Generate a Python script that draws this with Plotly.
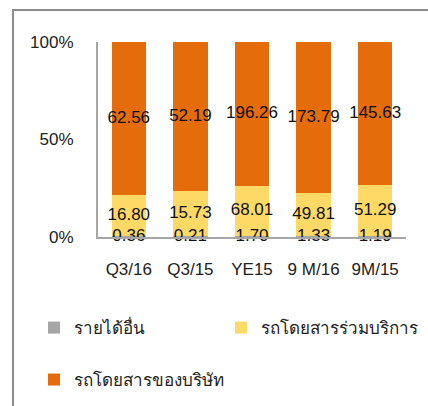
import plotly.graph_objects as go

categories = ["Q3/16", "Q3/15", "YE15", "9 M/16", "9M/15"]
other_income = [0.36, 0.21, 1.70, 1.33, 1.19]
joint_buses = [16.80, 15.73, 68.01, 49.81, 51.29]
company_buses = [62.56, 52.19, 196.26, 173.79, 145.63]

names = ["รายได้อื่น", "รถโดยสารร่วมบริการ", "รถโดยสารของบริษัท"]
colors = ["#A5A5A5", "#FFD966", "#E46C0A"]
legends = ["legend", "legend2", "legend3"]
series = [other_income, joint_buses, company_buses]

W, H = 428, 406
L, R, T, B = 98, 22, 42, 169
pw, ph = W - L - R, H - T - B

FONT = "Liberation Sans, Arial, sans-serif"

fig = go.Figure()
for name, vals, col, lg in zip(names, series, colors, legends):
    fig.add_trace(go.Bar(
        x=categories, y=vals, name=name, legend=lg,
        marker=dict(color=col, line=dict(width=0)),
    ))

# value labels centred in each stacked segment (positions from the data)
totals = [sum(s[i] for s in series) for i in range(len(categories))]
base = [0.0] * len(categories)
for vals in series:
    mids = []
    for i, v in enumerate(vals):
        p = v / totals[i] * 100
        mids.append(base[i] + p / 2)
        base[i] += p
    fig.add_trace(go.Scatter(
        x=categories, y=mids, mode="text",
        text=[f"{v:.2f}" for v in vals],
        textfont=dict(color="#111111", size=17, family=FONT),
        showlegend=False, hoverinfo="skip", cliponaxis=False,
    ))

def px_x(p):
    return (p - L) / pw

def px_y(p):
    return 1 - (p - T) / ph

leg_common = dict(
    orientation="h", xanchor="left", yanchor="middle",
    font=dict(size=17, family=FONT, color="#222222"),
    bgcolor="rgba(0,0,0,0)", borderwidth=0,
)

fig.update_layout(
    width=W, height=H,
    margin=dict(l=L, r=R, t=T, b=B, autoexpand=False),
    barmode="stack", barnorm="percent", bargap=0.44,
    plot_bgcolor="white", paper_bgcolor="white",
    font=dict(family=FONT, size=17, color="#222222"),
    showlegend=True,
    legend=dict(x=px_x(34), y=px_y(328), **leg_common),
    legend2=dict(x=px_x(221), y=px_y(328), **leg_common),
    legend3=dict(x=px_x(34), y=px_y(380), **leg_common),
    xaxis=dict(
        showline=True, linecolor="#A6A6A6", linewidth=2,
        ticks="", showgrid=False, ticklabelstandoff=16,
        tickfont=dict(size=17, family=FONT, color="#222222"),
    ),
    yaxis=dict(
        range=[0, 100], tickvals=[0, 50, 100],
        ticktext=["0%", "50%", "100%"],
        showline=True, linecolor="#A6A6A6", linewidth=2,
        ticks="", showgrid=False, zeroline=False, ticklabelstandoff=19,
        tickfont=dict(size=17, family=FONT, color="#222222"),
    ),
    shapes=[
        dict(type="line", xref="paper", yref="paper",
             x0=px_x(13), x1=px_x(13), y0=px_y(10), y1=px_y(420),
             line=dict(color="#8C8C8C", width=2)),
        dict(type="line", xref="paper", yref="paper",
             x0=px_x(12), x1=px_x(440), y0=px_y(10), y1=px_y(10),
             line=dict(color="#8C8C8C", width=2)),
    ],
)

fig.write_html("out.html", config={"displayModeBar": False},
               post_script="document.body.style.margin='0px';")
